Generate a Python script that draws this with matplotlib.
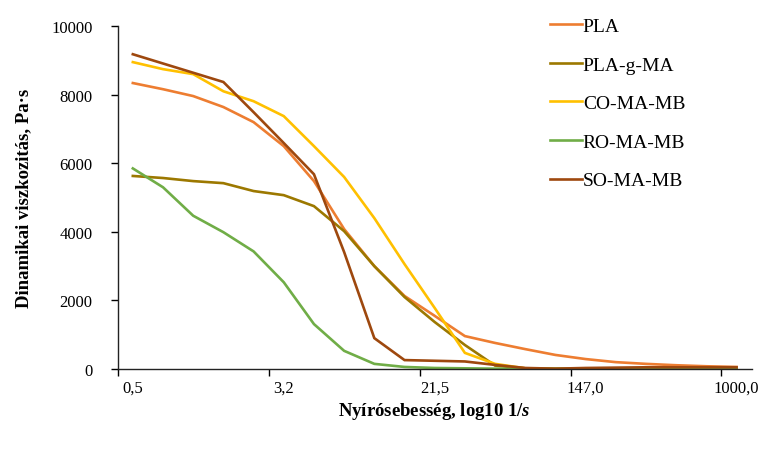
import matplotlib.pyplot as plt
import matplotlib.ticker as mticker
import numpy as np

plt.rcParams.update({
    "font.family": ["Liberation Serif", "DejaVu Serif"],
    "mathtext.fontset": "custom",
    "mathtext.it": "Liberation Serif:italic:bold",
    "mathtext.rm": "Liberation Serif:bold",
})

# shear rate categories (21 log-spaced points), labels only on every 5th
TICK_LABELS = ["0,5", "3,2", "21,5", "147,0", "1000,0"]
N_POINTS = 21

SERIES_NAMES = ["PLA", "PLA-g-MA", "CO-MA-MB", "RO-MA-MB", "SO-MA-MB"]
SERIES_COLORS = ["#ED7D31", "#9C7800", "#FFC000", "#70AD47", "#9E480E"]

PLA = [8340, 8160, 7960, 7640, 7200, 6500, 5480, 4080, 3000, 2130, 1550,
       960, 760, 580, 410, 290, 200, 150, 110, 80, 60]
PLA_G_MA = [5630, 5570, 5480, 5420, 5190, 5070, 4750, 4020, 3000, 2100, 1370,
            700, 100, 20, 5, 0, 0, 0, 0, 0, 0]
CO_MA_MB = [8950, 8745, 8600, 8100, 7810, 7375, 6500, 5600, 4400, 3060, 1780,
            470, 150, 20, 5, 0, 0, 0, 0, 0, 0]
RO_MA_MB = [5850, 5300, 4470, 3990, 3430, 2530, 1310, 530, 150, 60, 30,
            20, 10, 10, 10, 10, 10, 10, 10, 10, 10]
SO_MA_MB = [9180, 8910, 8640, 8370, 7490, 6590, 5680, 3410, 900, 260, 240,
            220, 120, 30, 10, 30, 40, 50, 50, 50, 50]

SERIES = [PLA, PLA_G_MA, CO_MA_MB, RO_MA_MB, SO_MA_MB]

fig = plt.figure(figsize=(7.67, 4.52), dpi=100)
ax = fig.add_axes([0.1535, 0.1814, 0.8265, 0.7586])

x = np.arange(N_POINTS)
handles = []
for name, color, values in zip(SERIES_NAMES, SERIES_COLORS, SERIES):
    (line,) = ax.plot(x, values, color=color, linewidth=1.9, label=name,
                      solid_joinstyle="miter")
    handles.append(line)

ax.set_xlim(-0.5, N_POINTS - 0.5)
ax.set_ylim(0, 10000)

# tick marks between categories, labels on category centres
ax.xaxis.set_major_locator(mticker.FixedLocator([-0.5, 4.5, 9.5, 14.5, 19.5]))
ax.xaxis.set_major_formatter(mticker.NullFormatter())
ax.xaxis.set_minor_locator(mticker.FixedLocator([0, 5, 10, 15, 20]))
ax.xaxis.set_minor_formatter(mticker.FixedFormatter(TICK_LABELS))
ax.tick_params(axis="x", which="major", direction="out", length=5, width=1)
ax.tick_params(axis="x", which="minor", length=0, pad=8, labelsize=12)

ax.yaxis.set_major_locator(mticker.MultipleLocator(2000))
ax.tick_params(axis="y", direction="out", length=5, width=1, labelsize=12,
               pad=13)

for side in ("top", "right"):
    ax.spines[side].set_visible(False)
for side in ("left", "bottom"):
    ax.spines[side].set_linewidth(1.0)
    ax.spines[side].set_color("#222222")

ax.set_xlabel("Nyírósebesség, log10 1/$\\mathit{s}$", fontsize=13.5,
              fontweight="bold", labelpad=3)
ax.set_ylabel("Dinamikai viszkozitás, Pa·s", fontsize=13.5,
              fontweight="bold", labelpad=14)

ax.legend(handles=handles, loc="upper left",
          bbox_to_anchor=(0.694, 0.998), bbox_transform=fig.transFigure,
          frameon=False, fontsize=14, handlelength=1.65,
          handletextpad=0.05, labelspacing=1.08)

fig.savefig("out.png", dpi=100, facecolor="white")
